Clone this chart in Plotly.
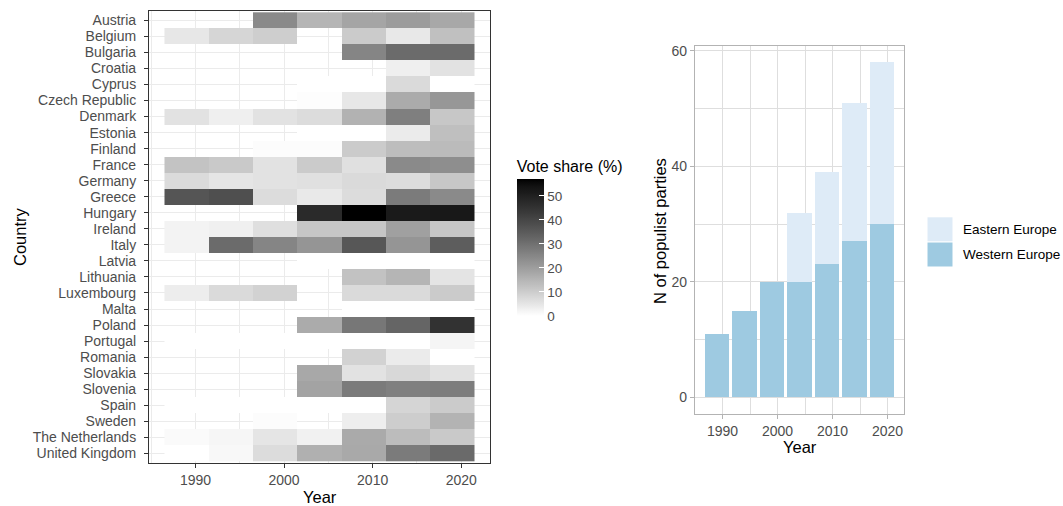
import plotly.graph_objects as go

W, H = 1063, 506

countries = ["Austria", "Belgium", "Bulgaria", "Croatia", "Cyprus", "Czech Republic",
             "Denmark", "Estonia", "Finland", "France", "Germany", "Greece", "Hungary",
             "Ireland", "Italy", "Latvia", "Lithuania", "Luxembourg", "Malta", "Poland",
             "Portugal", "Romania", "Slovakia", "Slovenia", "Spain", "Sweden",
             "The Netherlands", "United Kingdom"]
years = [1989, 1994, 1999, 2004, 2009, 2014, 2019]
N = None
vote_share = [
    [N, N, 24.2, 15.0, 18.4, 20.3, 17.7],      # Austria
    [4.6, 8.2, 9.8, N, 10.4, 4.4, 12.7],       # Belgium
    [N, N, N, N, 25.3, 31.2, 31.2],            # Bulgaria
    [N, N, N, N, N, 3.2, 5.6],                 # Croatia
    [N, N, N, 0, 0, 7.4, 0],                   # Cyprus
    [N, N, N, 0.4, 4.6, 17.1, 21.4],           # Czech Republic
    [5.8, 3.2, 5.8, 7.0, 15.6, 26.7, 11.1],    # Denmark
    [N, N, N, 0, 0, 4.0, 12.9],                # Estonia
    [N, N, 0.6, 0.6, 10.4, 13.3, 13.7],        # Finland
    [12.1, 10.8, 5.8, 10.4, 6.2, 24.2, 23.5],  # France
    [7.2, 5.0, 5.6, 6.2, 7.4, 7.0, 11.1],      # Germany
    [36.4, 37.8, 7.0, 4.2, 7.0, 27.5, 24.2],   # Greece
    [N, N, N, 47.3, 57.0, 51.7, 52.3],         # Hungary
    [2.4, 3.0, 6.4, 11.5, 11.5, 19.4, 11.5],   # Ireland
    [2.4, 31.2, 25.3, 21.8, 35.9, 21.8, 34.4], # Italy
    [N, N, N, 0, 0, 0, 0],                     # Latvia
    [N, N, N, N, 12.3, 15.0, 5.2],             # Lithuania
    [3.6, 7.4, 9.0, N, 7.4, 7.4, 10.3],        # Luxembourg
    [N, N, N, N, 0, 0, 0],                     # Malta
    [N, N, N, 17.1, 28.5, 32.6, 45.2],         # Poland
    [0, 0, 0, 0, 0, 0, 2.0],                   # Portugal
    [N, N, N, N, 9.0, 4.0, 0],                 # Romania
    [N, N, N, 17.7, 5.6, 7.8, 5.6],            # Slovakia
    [N, N, N, 18.8, 27.5, 26.4, 27.1],         # Slovenia
    [0, 0, 0, 0, 0, 8.4, 10.4],                # Spain
    [N, N, 0.6, N, 3.4, 10.0, 15.4],           # Sweden
    [1.0, 1.8, 5.0, 2.8, 17.3, 13.5, 10.8],    # The Netherlands
    [0, 1.4, 7.0, 16.0, 17.5, 27.5, 31.4],     # United Kingdom
]
vote_max = 57.0
vote_ticks = [0, 10, 20, 30, 40, 50]

bar_years = [1989, 1994, 1999, 2004, 2009, 2014, 2019]
western = [11, 15, 20, 20, 23, 27, 30]
eastern = [0, 0, 0, 12, 16, 24, 28]
region_names = ["Eastern Europe", "Western Europe"]
region_colors = {"Eastern Europe": "#deebf7", "Western Europe": "#9ecae1"}
year_ticks = [1990, 2000, 2010, 2020]
count_ticks = [0, 20, 40, 60]

FONT = "Liberation Sans, Arial, sans-serif"
TXT = "#4d4d4d"


def px(x):
    return x / W


def py(y):
    return 1 - y / H


# white -> black gradient interpolated in CIE Lab (as ggplot does)
def lab_gray(L):
    fy = (L + 16) / 116
    Y = fy ** 3 if fy ** 3 > 0.008856 else L / 903.3
    c = 12.92 * Y if Y <= 0.0031308 else 1.055 * Y ** (1 / 2.4) - 0.055
    g = max(0, min(255, round(255 * c)))
    return f"rgb({g},{g},{g})"


colorscale = [[i / 40, lab_gray(100 * (1 - i / 40))] for i in range(41)]

# colour bar geometry (pixels)
CB_LEFT, CB_BOTTOM, CB_THICK, CB_LEN = 516.7, 316.0, 27.0, 159
CB_BAR = 136.0  # drawn length of the bar itself (title takes the rest)

fig = go.Figure()
fig.add_trace(go.Heatmap(
    z=vote_share, x=years, y=countries, zmin=0, zmax=vote_max,
    colorscale=colorscale, xaxis="x", yaxis="y",
    colorbar=dict(
        title=dict(text="Vote share (%)", side="top", font=dict(size=16, color="black", family=FONT)),
        x=px(CB_LEFT), xanchor="left", xpad=0, y=py(CB_BOTTOM), yanchor="bottom", ypad=0,
        len=CB_LEN, lenmode="pixels", thickness=CB_THICK, thicknessmode="pixels",
        tickmode="array", tickvals=vote_ticks, ticks="inside", ticklen=5,
        tickcolor="white", tickwidth=1, outlinewidth=0, tickprefix="\u2002",
        tickfont=dict(size=13.5, color=TXT, family=FONT),
    ),
))

fig.add_trace(go.Bar(x=bar_years, y=western, name=region_names[1],
                     marker=dict(color=region_colors[region_names[1]], line=dict(width=0)),
                     xaxis="x2", yaxis="y2", showlegend=False))
fig.add_trace(go.Bar(x=bar_years, y=eastern, name=region_names[0],
                     marker=dict(color=region_colors[region_names[0]], line=dict(width=0)),
                     xaxis="x2", yaxis="y2", showlegend=False))

shapes = []
annotations = []

# left-side white ticks of the colour bar (ggplot draws them on both sides)
for v in vote_ticks[1:]:
    yv = CB_BOTTOM - v / vote_max * CB_BAR
    shapes.append(dict(type="line", xref="paper", yref="paper",
                       x0=px(CB_LEFT), x1=px(CB_LEFT + 5), y0=py(yv), y1=py(yv),
                       line=dict(color="white", width=1)))

# manual legend keys (ggplot style)
key_top = 217.3
for i, name in enumerate(region_names):
    y0 = key_top + i * 25.2
    shapes.append(dict(type="rect", xref="paper", yref="paper",
                       x0=px(927.5), x1=px(952.5), y0=py(y0), y1=py(y0 + 24),
                       fillcolor=region_colors[name], line=dict(width=0)))
    annotations.append(dict(text=name, xref="paper", yref="paper", x=px(961),
                            y=py(y0 + 12), xanchor="left", yanchor="middle",
                            showarrow=False, font=dict(size=13.5, color="black", family=FONT)))

# axis titles
title_font = dict(size=16.5, color="black", family=FONT)
annotations += [
    dict(text="Country", xref="paper", yref="paper", x=px(20), y=py(237), textangle=-90,
         xanchor="center", yanchor="middle", showarrow=False, font=title_font),
    dict(text="Year", xref="paper", yref="paper", x=px(320), y=py(497),
         xanchor="center", yanchor="middle", showarrow=False, font=title_font),
    dict(text="Year", xref="paper", yref="paper", x=px(799.5), y=py(447),
         xanchor="center", yanchor="middle", showarrow=False, font=title_font),
    dict(text="N of populist parties", xref="paper", yref="paper", x=px(660), y=py(231),
         textangle=-90, xanchor="center", yanchor="middle", showarrow=False, font=title_font),
]

tickfont = dict(size=14, color=TXT, family=FONT)

fig.update_layout(
    width=W, height=H, margin=dict(l=0, r=0, t=0, b=0),
    paper_bgcolor="white", plot_bgcolor="white",
    font=dict(family=FONT), barmode="stack", bargap=0.1,
    showlegend=False, shapes=shapes, annotations=annotations,
    xaxis=dict(domain=[px(149), px(490)], range=[1984.75, 2023.25],
               tickmode="linear", tick0=1990, dtick=10,
               showgrid=True, gridcolor="#ebebeb", gridwidth=1.1,
               minor=dict(tickmode="linear", tick0=1990, dtick=5, showgrid=True,
                          gridcolor="#ebebeb", gridwidth=0.6),
               showline=True, linecolor="#333333", linewidth=1.1, mirror=True,
               ticks="outside", ticklen=4, tickcolor="#333333", tickwidth=1,
               tickfont=tickfont, zeroline=False, automargin=False, anchor="y"),
    yaxis=dict(domain=[py(463), py(10.7)], type="category",
               categoryorder="array", categoryarray=countries, range=[27.6, -0.6],
               tickmode="array", tickvals=countries, ticktext=countries,
               showgrid=True, gridcolor="#ebebeb", gridwidth=1.1,
               showline=True, linecolor="#333333", linewidth=1.1, mirror=True,
               ticks="outside", ticklen=4, tickcolor="#333333", tickwidth=1,
               tickfont=tickfont, zeroline=False, automargin=False, anchor="x",
               ticklabelstandoff=5),
    xaxis2=dict(domain=[px(695), px(904)], range=[1985.0, 2023.0],
                tickmode="array", tickvals=year_ticks,
                showgrid=True, gridcolor="#dedede", gridwidth=1,
                minor=dict(tickmode="linear", tick0=1990, dtick=5, showgrid=True,
                           gridcolor="#dedede", gridwidth=0.5),
                showline=True, linecolor="#b3b3b3", linewidth=1.1, mirror=True,
                ticks="outside", ticklen=4, tickcolor="#b3b3b3", tickwidth=1,
                tickfont=tickfont, zeroline=False, automargin=False, anchor="y2"),
    yaxis2=dict(domain=[py(414), py(45.7)], range=[-2.9, 60.9],
                tickmode="array", tickvals=count_ticks,
                showgrid=True, gridcolor="#dedede", gridwidth=1,
                minor=dict(tickmode="linear", tick0=0, dtick=10, showgrid=True,
                           gridcolor="#dedede", gridwidth=0.5),
                showline=True, linecolor="#b3b3b3", linewidth=1.1, mirror=True,
                ticks="outside", ticklen=4, tickcolor="#b3b3b3", tickwidth=1,
                tickfont=tickfont, zeroline=False, automargin=False, anchor="x2"),
)

fig.write_html("out.html", config={"displayModeBar": False},
               post_script="document.body.style.margin='0';document.body.style.overflow='hidden';")
